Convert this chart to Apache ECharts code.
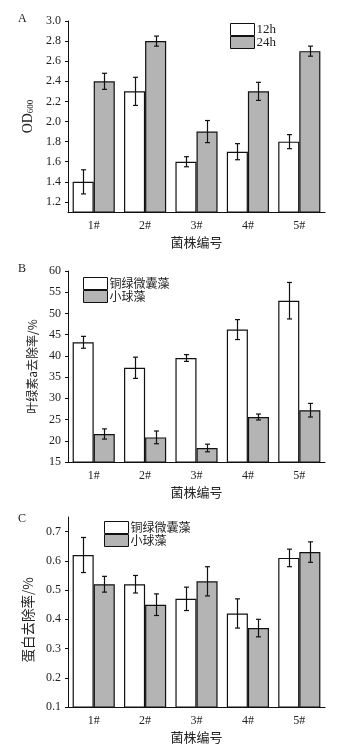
<!DOCTYPE html>
<html><head><meta charset="utf-8">
<script src="https://cdn.jsdelivr.net/npm/echarts@6/dist/echarts.min.js"></script>
<style>html,body{margin:0;padding:0;background:#fff}#c{width:353px;height:752px}</style>
</head><body><div id="c"></div>
<script>
const categories = ['1#','2#','3#','4#','5#'];
// Panel A: OD600
const a12h = [1.4, 2.3, 1.6, 1.7, 1.8];
const a12hErr = [0.12, 0.14, 0.05, 0.08, 0.07];
const a24h = [2.4, 2.8, 1.9, 2.3, 2.7];
const a24hErr = [0.08, 0.05, 0.11, 0.09, 0.05];
const aTicks = [1.2, 1.4, 1.6, 1.8, 2.0, 2.2, 2.4, 2.6, 2.8, 3.0];
// Panel B: chlorophyll a removal %
const bMic = [43.2, 37.2, 39.5, 46.2, 53.0];
const bMicErr = [1.4, 2.5, 0.8, 2.35, 4.3];
const bChl = [21.6, 20.8, 18.3, 25.6, 27.2];
const bChlErr = [1.2, 1.5, 0.9, 0.7, 1.6];
// Panel C: protein removal
const cMic = [0.62, 0.52, 0.47, 0.42, 0.61];
const cMicErr = [0.06, 0.03, 0.04, 0.05, 0.03];
const cChl = [0.52, 0.45, 0.53, 0.37, 0.63];
const cChlErr = [0.027, 0.037, 0.05, 0.03, 0.035];
const cTicks = [0.1, 0.2, 0.3, 0.4, 0.5, 0.6, 0.7];

const GRAY = '#b4b4b4';
const SERIF = 'Liberation Serif';
const CJK = 'Noto Sans CJK SC';
const CAT_GAP = 0.18;

function errRender(side) {
  return function (params, api) {
    const i = api.value(0), v = api.value(1), e = api.value(2);
    const c = api.coord([i, v]);
    const catW = api.size([1, 0])[0];
    const bw = catW * (1 - CAT_GAP) / 2;
    const x = Math.round(c[0] + side * bw / 2) + 0.5;
    const top = api.coord([i, v + e])[1];
    const bot = api.coord([i, v - e])[1];
    const st = { stroke: '#111', lineWidth: 1.2 };
    return { type: 'group', children: [
      { type: 'line', shape: { x1: x, y1: top, x2: x, y2: bot }, style: st },
      { type: 'line', shape: { x1: x - 2.5, y1: top, x2: x + 2.5, y2: top }, style: st },
      { type: 'line', shape: { x1: x - 2.5, y1: bot, x2: x + 2.5, y2: bot }, style: st }
    ]};
  };
}
function errData(vals, errs) { return vals.map((v, i) => [i, v, errs[i]]); }

function xAx(gi) {
  return {
    type: 'category', gridIndex: gi, data: categories,
    axisLine: { lineStyle: { color: '#111', width: 1 } },
    axisTick: { inside: true, length: 2, lineStyle: { color: '#111' } },
    axisLabel: { fontFamily: SERIF, fontSize: 12, color: '#222', margin: 8 },
    name: '菌株编号', nameLocation: 'middle', nameGap: 24,
    nameTextStyle: { fontFamily: CJK, fontSize: 13, color: '#222' }
  };
}
const yTick = { show: true, inside: false, length: 3, lineStyle: { color: '#111' } };
function yAx(gi, o) {
  return Object.assign({
    type: 'value', gridIndex: gi,
    axisLine: { show: true, lineStyle: { color: '#111', width: 1 } },
    axisTick: yTick,
    splitLine: { show: false },
    nameLocation: 'middle', nameGap: 27, nameRotate: 90,
    nameTextStyle: { fontFamily: CJK, fontSize: 13, color: '#222' }
  }, o);
}
const barBase = { type: 'bar', barGap: '0%', barCategoryGap: (CAT_GAP * 100) + '%' };
function bar(name, gi, data, color) {
  return Object.assign({}, barBase, {
    name, xAxisIndex: gi, yAxisIndex: gi, data,
    itemStyle: { color, borderColor: '#111', borderWidth: 1.2 }
  });
}
function err(gi, vals, errs, side) {
  return { type: 'custom', xAxisIndex: gi, yAxisIndex: gi, z: 5,
    renderItem: errRender(side), data: errData(vals, errs), encode: { x: 0, y: 1 } };
}
function legend(names, left, top, font) {
  return { data: names, orient: 'vertical', left, top, itemWidth: 24, itemHeight: 12,
    itemGap: 0, icon: 'rect', selectedMode: false, padding: 0,
    itemStyle: { borderWidth: 1, borderColor: '#111' },
    textStyle: { fontFamily: font, fontSize: font === SERIF ? 13 : 12, color: '#222', lineHeight: 12.5, padding: [0, 0, 0, -3] } };
}

const chart = echarts.init(document.getElementById('c'), null, { renderer: 'canvas' });
chart.setOption({
  animation: false,
  backgroundColor: '#fff',
  title: [
    { text: 'A', left: 13, top: 8, textStyle: { fontFamily: SERIF, fontSize: 12, fontWeight: 'normal', color: '#222' } },
    { text: 'B', left: 13, top: 258, textStyle: { fontFamily: SERIF, fontSize: 12, fontWeight: 'normal', color: '#222' } },
    { text: 'C', left: 13, top: 508, textStyle: { fontFamily: SERIF, fontSize: 12, fontWeight: 'normal', color: '#222' } }
  ],
  grid: [
    { left: 68, width: 257, top: 21, height: 191 },
    { left: 68, width: 257, top: 271, height: 191 },
    { left: 68, width: 257, top: 517, height: 190 }
  ],
  legend: [
    legend(['12h', '24h'], 230, 23, SERIF),
    legend(['铜绿微囊藻', '小球藻'], 83, 277, CJK),
    legend(['铜绿微囊藻', '小球藻'], 104, 521, CJK)
  ],
  xAxis: [xAx(0), xAx(1), xAx(2)],
  yAxis: [
    yAx(0, { min: 1.1, max: 3.0, name: '{a|OD}{s|600}',
      nameTextStyle: { fontFamily: SERIF, fontSize: 14, color: '#222',
        rich: { a: { fontFamily: SERIF, fontSize: 14, color: '#222', verticalAlign: 'bottom', lineHeight: 16 },
                s: { fontFamily: SERIF, fontSize: 9, color: '#222', verticalAlign: 'bottom', lineHeight: 12 } } },
      axisTick: Object.assign({}, yTick, { customValues: aTicks }),
      axisLabel: { customValues: aTicks, fontFamily: SERIF, fontSize: 12, color: '#222', margin: 7, formatter: v => v.toFixed(1) } }),
    yAx(1, { min: 15, max: 60, interval: 5, name: '叶绿素a去除率/%',
      nameTextStyle: { fontFamily: CJK, fontSize: 12, color: '#222' },
      axisLabel: { fontFamily: SERIF, fontSize: 12, color: '#222', margin: 7 } }),
    yAx(2, { min: 0.1, max: 0.75, name: '蛋白去除率/%',
      nameTextStyle: { fontFamily: CJK, fontSize: 13.5, color: '#222', padding: [0, 16, 0, 0] },
      axisTick: Object.assign({}, yTick, { customValues: cTicks }),
      axisLabel: { customValues: cTicks, fontFamily: SERIF, fontSize: 12, color: '#222', margin: 7, formatter: v => v.toFixed(1) } })
  ],
  series: [
    bar('12h', 0, a12h, '#fff'),
    bar('24h', 0, a24h, GRAY),
    err(0, a12h, a12hErr, -1),
    err(0, a24h, a24hErr, 1),
    bar('铜绿微囊藻', 1, bMic, '#fff'),
    bar('小球藻', 1, bChl, GRAY),
    err(1, bMic, bMicErr, -1),
    err(1, bChl, bChlErr, 1),
    bar('铜绿微囊藻', 2, cMic, '#fff'),
    bar('小球藻', 2, cChl, GRAY),
    err(2, cMic, cMicErr, -1),
    err(2, cChl, cChlErr, 1)
  ]
});
</script></body></html>
